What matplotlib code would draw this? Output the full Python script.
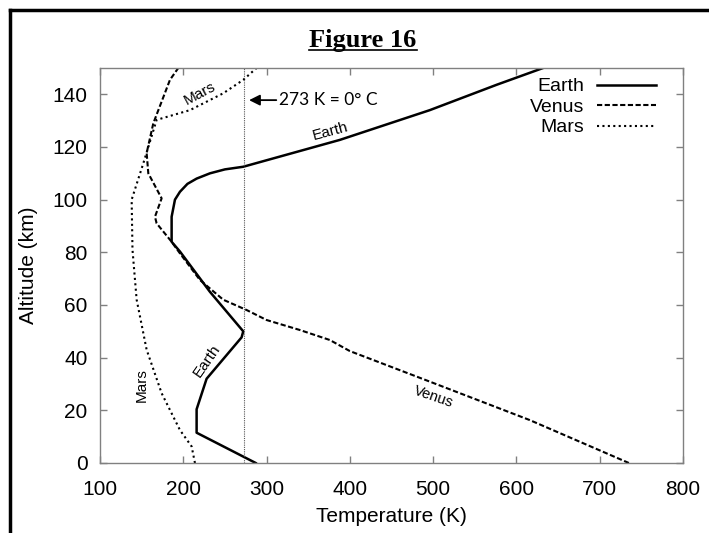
import numpy as np
import matplotlib
matplotlib.use("Agg")
import matplotlib.pyplot as plt
from matplotlib.lines import Line2D

plt.rcParams['font.family'] = ['Liberation Sans', 'DejaVu Sans']

# temperature (K) vs altitude (km)
earth_alt = [0, 11.5, 20.4, 32, 47.7, 50, 65, 80.3, 84, 93.5, 100, 103, 106, 108, 110, 111.5, 112.5, 122.7, 134, 143.6, 150]
earth_temp = [287, 216, 216, 228, 270, 272, 232, 196, 186, 186, 190, 196, 205, 216, 232, 250, 272, 388, 496, 576, 632]

venus_alt = [0, 16.3, 30.9, 42.5, 46.7, 50.5, 54.3, 58.1, 62, 69.5, 79.6, 84, 91, 93.5, 100.5, 110, 117.7, 129, 145.5, 150]
venus_temp = [735, 616, 496, 400, 376, 340, 300, 276, 248, 220, 196, 186, 168, 166, 174, 158, 156, 164, 184, 194]

mars_alt = [0, 6.3, 12.5, 26.5, 43, 62, 81, 100, 113.8, 130.3, 134, 140.4, 145.5, 150]
mars_temp = [214, 210, 196, 174, 156, 144, 139, 138, 152, 168, 208, 248, 272, 288]

freezing = 273

fig = plt.figure(figsize=(7.09, 5.33), dpi=100)
ax = fig.add_axes([100/709, 1 - 463/533, 583/709, 395/533])

# outer frame (left and top only)
fig.add_artist(Line2D([10/709, 10/709], [1 - 532/533, 1 - 10/533], color='black', lw=2.5))
fig.add_artist(Line2D([10/709, 1.0], [1 - 10/533, 1 - 10/533], color='black', lw=2.5))

# title with underline
fig.text(363/709, 1 - 47/533, "Figure 16", ha='center', va='baseline',
         family='Liberation Serif', fontweight='bold', fontsize=19)
fig.add_artist(Line2D([309/709, 417/709], [1 - 50/533, 1 - 50/533], color='black', lw=1.2))

ax.plot(earth_temp, earth_alt, color='black', lw=1.8, label='Earth')
ax.plot(venus_temp, venus_alt, color='black', lw=1.5, ls=(0, (2.5, 1.2)), label='Venus')
ax.plot(mars_temp, mars_alt, color='black', lw=1.5, ls=(0, (1, 1.6)), label='Mars')
ax.axvline(freezing, color='#555555', lw=0.8, ls=(0, (1, 1)))

ax.annotate("273 K = 0\u00b0 C", xy=(279, 137.8), xytext=(315, 137.8),
            va='center', ha='left', fontsize=12.5, family='Lato',
            arrowprops=dict(arrowstyle='-|>', color='black', lw=1.3,
                            mutation_scale=16, shrinkA=0, shrinkB=0))

# inline curve labels
ax.text(220, 140.5, "Mars", rotation=28, fontsize=11, ha='center', va='center')
ax.text(377, 126, "Earth", rotation=15, fontsize=11, ha='center', va='center')
ax.text(228, 39, "Earth", rotation=55, fontsize=11, ha='center', va='center')
ax.text(150, 29.6, "Mars", rotation=90, fontsize=11, ha='center', va='center')
ax.text(500, 25, "Venus", rotation=-19, fontsize=10.5, ha='center', va='center')

ax.set_xlim(100, 800)
ax.set_ylim(0, 150)
ax.set_xticks(np.arange(100, 801, 100))
ax.set_yticks(np.arange(0, 141, 20))
ax.tick_params(direction='in', length=5, width=1, color='#808080',
               top=True, right=True, labelsize=15)
ax.tick_params(axis='x', pad=12)
ax.tick_params(axis='y', pad=9)
for s in ax.spines.values():
    s.set_color('#808080')
    s.set_linewidth(1)

ax.set_xlabel("Temperature (K)", fontsize=15, labelpad=6)
ax.set_ylabel("Altitude (km)", fontsize=15, labelpad=10)

leg = ax.legend(loc='upper right', frameon=False, markerfirst=False, fontsize=14,
                handlelength=3.0, handletextpad=0.7, labelspacing=0.15,
                borderaxespad=0.1, bbox_to_anchor=(0.97, 1.0))

fig.savefig("out.png", dpi=100)
